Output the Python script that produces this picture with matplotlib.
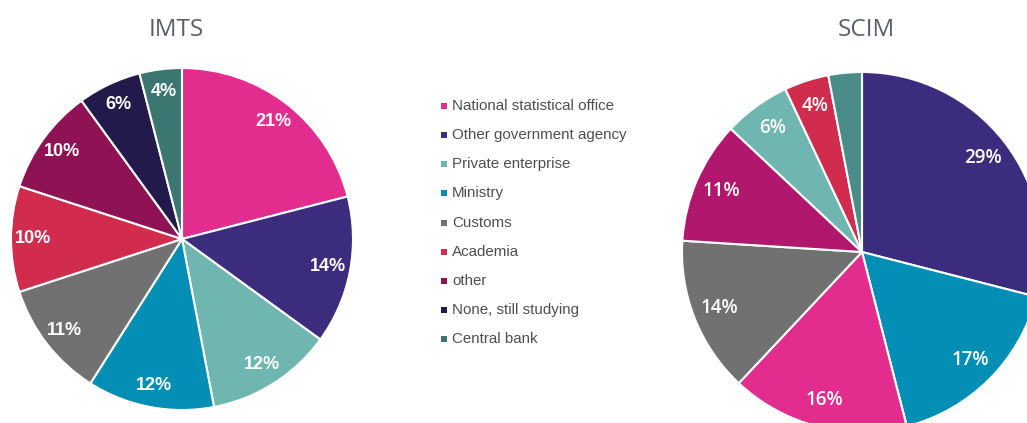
import matplotlib
matplotlib.use("Agg")
import matplotlib.pyplot as plt

# ---- data ----
categories = ["National statistical office", "Other government agency", "Private enterprise",
              "Ministry", "Customs", "Academia", "other", "None, still studying", "Central bank"]
imts_values = [21, 14, 12, 12, 11, 10, 10, 6, 4]

scim_categories = ["Other government agency", "Ministry", "National statistical office",
                   "Customs", "other", "Private enterprise", "Academia", "Central bank"]
scim_values = [29, 17, 16, 14, 11, 6, 4, 3]

titles = ["IMTS", "SCIM"]

# ---- styles ----
imts_colors = {
    "National statistical office": "#E22D8F",
    "Other government agency": "#3B2C7E",
    "Private enterprise": "#6FB5B0",
    "Ministry": "#028EB5",
    "Customs": "#717171",
    "Academia": "#D12B4E",
    "other": "#8E1254",
    "None, still studying": "#221A4B",
    "Central bank": "#3B7770",
}
scim_colors = dict(imts_colors)
scim_colors["other"] = "#B1176C"
scim_colors["Central bank"] = "#4A8C88"

W, H = 1027, 423
fig = plt.figure(figsize=(W / 100, H / 100), dpi=100)

def px_axes(cx, cy, r):
    return fig.add_axes([(cx - r) / W, (H - (cy + r)) / H, 2 * r / W, 2 * r / H])

# Left pie (IMTS)
ax1 = px_axes(182, 239, 171)
ax1.pie(imts_values, colors=[imts_colors[c] for c in categories], startangle=90,
        counterclock=False, radius=1,
        wedgeprops=dict(edgecolor="white", linewidth=1.5),
        autopct=lambda p: f"{p:.0f}%", pctdistance=0.87,
        textprops=dict(color="white", fontsize=13, fontweight="bold",
                       family="Liberation Sans"))
ax1.set_xlim(-1, 1)
ax1.set_ylim(-1, 1)
ax1.set_aspect("equal")
ax1.axis("off")

# Right pie (SCIM)
ax2 = px_axes(862, 252, 180)
ax2.pie(scim_values, colors=[scim_colors[c] for c in scim_categories], startangle=90,
        counterclock=False, radius=1,
        wedgeprops=dict(edgecolor="white", linewidth=1.5),
        autopct=lambda p: f"{p:.0f}%" if p >= 3.5 else "", pctdistance=0.85,
        textprops=dict(color="white", fontsize=13.5, fontweight="semibold",
                       family="Open Sans"))
ax2.set_xlim(-1, 1)
ax2.set_ylim(-1, 1)
ax2.set_aspect("equal")
ax2.axis("off")

# Titles
fig.text(176 / W, 1 - 30 / H, titles[0], ha="center", va="center", fontsize=17.5,
         color="#5A5E68", family="Open Sans")
fig.text(866 / W, 1 - 30 / H, titles[1], ha="center", va="center", fontsize=17.5,
         color="#5A5E68", family="Open Sans")

# Legend (manual, in its own axes)
row0, row_sp = 106, 29.15
top = row0 - 0.5 * row_sp
bottom = row0 + (len(categories) - 0.5) * row_sp
lax = fig.add_axes([440 / W, (H - bottom) / H, 210 / W, (bottom - top) / H])
lax.set_xlim(0, 210)
lax.set_ylim(len(categories) - 0.5, -0.5)
lax.axis("off")
for i, c in enumerate(categories):
    lax.scatter([3.5], [i], marker="s", s=14, color=imts_colors[c], linewidths=0)
    lax.text(12, i, c, va="center", ha="left", fontsize=10.9, color="#4F4F4F",
             family="Liberation Sans")

fig.savefig("out.png", dpi=100)
